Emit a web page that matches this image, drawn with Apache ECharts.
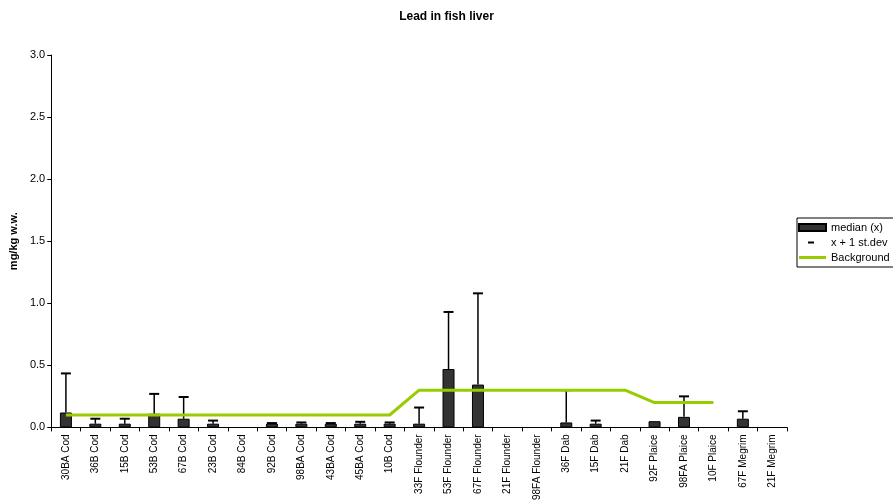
<!DOCTYPE html>
<html>
<head>
<meta charset="utf-8">
<script src="https://cdn.jsdelivr.net/npm/echarts@6/dist/echarts.min.js"></script>
<style>
    html, body { margin: 0; padding: 0; background: #fff; }
    #chart { width: 893px; height: 503px; }
</style>
</head>
<body>
<div id="chart"></div>
<script>
    // station / species labels
    const categories = ['30BA Cod', '36B Cod', '15B Cod', '53B Cod', '67B Cod', '23B Cod', '84B Cod', '92B Cod',
        '98BA Cod', '43BA Cod', '45BA Cod', '10B Cod', '33F Flounder', '53F Flounder', '67F Flounder',
        '21F Flounder', '98FA Flounder', '36F Dab', '15F Dab', '21F Dab', '92F Plaice', '98FA Plaice',
        '10F Plaice', '67F Megrim', '21F Megrim'];

    // median (x)
    const median = [0.12, 0.03, 0.03, 0.11, 0.07, 0.03, null, 0.03, 0.03, 0.03, 0.03, 0.03,
        0.03, 0.47, 0.345, null, null, 0.04, 0.03, null, 0.05, 0.085, null, 0.07, null];

    // x + 1 st.dev
    const stdevTop = [0.435, 0.07, 0.07, 0.27, 0.245, 0.055, null, 0.035, 0.04, 0.035, 0.045, 0.04,
        0.16, 0.93, 1.08, null, null, 0.3, 0.055, null, null, 0.25, null, 0.13, null];

    // background level
    const background = [0.1, 0.1, 0.1, 0.1, 0.1, 0.1, 0.1, 0.1, 0.1, 0.1, 0.1, 0.1,
        0.3, 0.3, 0.3, 0.3, 0.3, 0.3, 0.3, 0.3, 0.2, 0.2, 0.2, null, null];

    const yTicks = [0, 0.5, 1.0, 1.5, 2.0, 2.5, 3.0];

    const font = 'Arial, "Liberation Sans", sans-serif';
    const myChart = echarts.init(document.getElementById('chart'));

    const errData = [];
    stdevTop.forEach((v, i) => {
        if (v != null && median[i] != null) {
            errData.push([i, v, median[i]]);
        }
    });

    myChart.setOption({
        animation: false,
        textStyle: { fontFamily: font, color: '#000' },
        title: {
            text: 'Lead in fish liver',
            left: 'center',
            top: 6,
            textStyle: { fontSize: 12, fontWeight: 'bold', fontFamily: font, color: '#000' }
        },
        legend: {
            orient: 'vertical',
            left: 797,
            top: 218,
            padding: [4, 40, 4, 1],
            itemGap: 4,
            itemWidth: 27,
            itemHeight: 7,
            borderColor: '#000',
            borderWidth: 1,
            textStyle: { fontSize: 11, fontFamily: font, color: '#000' },
            data: [
                { name: 'median (x)', icon: 'path://M0,0 H27 V7 H0 Z' },
                { name: 'x + 1 st.dev', icon: 'path://M0,0 M27,7 M9,2.5 H15 V4.5 H9 Z' },
                { name: 'Background', icon: 'path://M0,0 M27,7 M0,2 H27 V5 H0 Z' }
            ]
        },
        grid: {
            left: 50,
            right: 106,
            top: 55,
            bottom: 74,
            containLabel: false
        },
        xAxis: {
            type: 'category',
            data: categories,
            boundaryGap: true,
            axisLine: { lineStyle: { color: '#000', width: 1 } },
            axisTick: { show: true, length: 4, lineStyle: { color: '#000' } },
            axisLabel: {
                interval: 0,
                rotate: 90,
                fontSize: 10,
                margin: 7,
                color: '#000',
                fontFamily: font
            }
        },
        yAxis: {
            type: 'value',
            min: yTicks[0],
            max: yTicks[yTicks.length - 1],
            interval: 0.5,
            name: 'mg/kg w.w.',
            nameLocation: 'middle',
            nameGap: 29,
            nameTextStyle: { fontSize: 11, fontWeight: 'bold', fontFamily: font, color: '#000' },
            splitLine: { show: false },
            axisLine: { show: true, lineStyle: { color: '#000', width: 1 } },
            axisTick: { show: true, length: 4, lineStyle: { color: '#000' } },
            axisLabel: {
                fontSize: 11,
                margin: 6,
                color: '#000',
                fontFamily: font,
                formatter: v => v.toFixed(1)
            }
        },
        series: [
            {
                name: 'median (x)',
                type: 'bar',
                data: median,
                barWidth: 12,
                itemStyle: { color: '#333333', borderColor: '#000', borderWidth: 1 },
                z: 2
            },
            {
                name: 'x + 1 st.dev',
                type: 'custom',
                data: errData,
                itemStyle: { color: '#000' },
                encode: { x: 0, y: [1, 2] },
                renderItem: function (params, api) {
                    const idx = api.value(0);
                    const top = api.coord([idx, api.value(1)]);
                    const base = api.coord([idx, api.value(2)]);
                    const half = 5;
                    return {
                        type: 'group',
                        children: [
                            {
                                type: 'line',
                                shape: { x1: top[0], y1: top[1], x2: base[0], y2: base[1] },
                                style: { stroke: '#000', lineWidth: 1.5 }
                            },
                            {
                                type: 'line',
                                shape: { x1: top[0] - half, y1: top[1], x2: top[0] + half, y2: top[1] },
                                style: { stroke: '#000', lineWidth: 2 }
                            }
                        ]
                    };
                },
                z: 3
            },
            {
                name: 'Background',
                type: 'line',
                data: background,
                showSymbol: false,
                connectNulls: false,
                color: '#99cc00',
                lineStyle: { color: '#99cc00', width: 3 },
                z: 4
            }
        ]
    });
</script>
</body>
</html>
